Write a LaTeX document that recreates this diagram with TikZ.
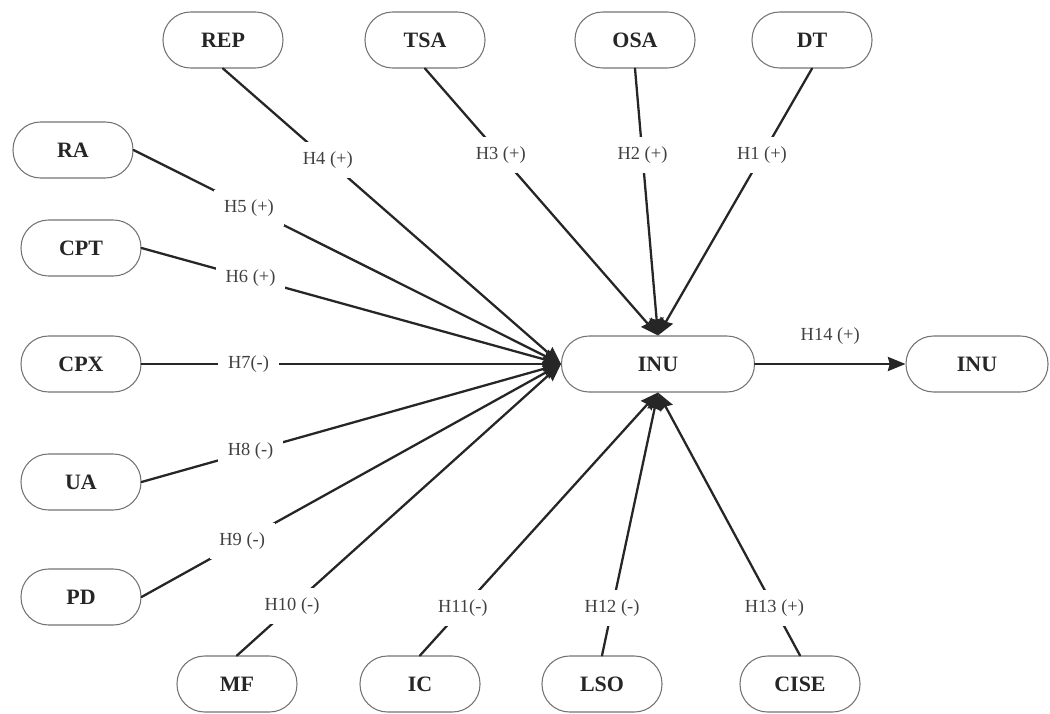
\documentclass[tikz,border=0pt]{standalone}
\usepackage{fontspec}
\setmainfont{Liberation Serif}
\usetikzlibrary{arrows.meta}

\begin{document}
\begin{tikzpicture}[x=0.02cm, y=-0.02cm, line cap=round, line join=round]

% ---------------- styles ----------------
\tikzset{
  construct/.style={draw=black!55, line width=0.6pt, rounded corners=0.55cm,
    minimum width=\BoxW, minimum height=\BoxH, inner sep=0pt,
    font=\fontsize{12.5}{14}\selectfont\bfseries, text=black!85},
  link/.style ={draw=black!85, line width=1.3pt, -{Stealth[length=10pt, width=8pt, inset=1pt]}},
  hyp/.style  ={fill=white, inner sep=5.5pt, font=\fontsize{10.5}{12}\selectfont, text=black!75}
}

% ---------------- parameters ----------------
\def\BoxW{2.4cm}     % construct width
\def\BoxH{1.12cm}    % construct height

\useasboundingbox (0,0) rectangle (1050,713);

% ---------------- constructs ----------------
% top row
\node[construct] (REP) at (223,40)  {REP};
\node[construct] (TSA) at (425,40)  {TSA};
\node[construct] (OSA) at (635,40)  {OSA};
\node[construct] (DT)  at (812,40)  {DT};
% left column
\node[construct] (RA)  at (73,150)  {RA};
\node[construct] (CPT) at (81,248)  {CPT};
\node[construct] (CPX) at (81,364)  {CPX};
\node[construct] (UA)  at (81,482)  {UA};
\node[construct] (PD)  at (81,597)  {PD};
% bottom row
\node[construct] (MF)   at (237,684) {MF};
\node[construct] (IC)   at (420,684) {IC};
\node[construct] (LSO)  at (602,684) {LSO};
\node[construct] (CISE) at (800,684) {CISE};
% centre and outcome
\node[construct, minimum width=3.86cm] (INU)    at (658,364) {INU};
\node[construct, minimum width=2.84cm] (INUout) at (977,364) {INU};

% ---------------- hypotheses ----------------
\draw[link] (DT.south)  -- node[hyp, pos=0.325] {H1 (+)} (INU.north);
\draw[link] (OSA.south) -- node[hyp, pos=0.325] {H2 (+)} (INU.north);
\draw[link] (TSA.south) -- node[hyp, pos=0.325] {H3 (+)} (INU.north);
\draw[link] (REP.south) -- node[hyp, pos=0.31]  {H4 (+)} (INU.west);
\draw[link] (RA.east)   -- node[hyp, pos=0.27]  {H5 (+)} (INU.west);
\draw[link] (CPT.east)  -- node[hyp, pos=0.26]  {H6 (+)} (INU.west);
\draw[link] (CPX.east)  -- node[hyp, pos=0.255] {H7(-)}  (INU.west);
\draw[link] (UA.east)   -- node[hyp, pos=0.26]  {H8 (-)} (INU.west);
\draw[link] (PD.east)   -- node[hyp, pos=0.24]  {H9 (-)} (INU.west);
\draw[link] (MF.north)  -- node[hyp, pos=0.17]  {H10 (-)} (INU.west);
\draw[link] (IC.north)  -- node[hyp, pos=0.18]  {H11(-)}  (INU.south);
\draw[link] (LSO.north) -- node[hyp, pos=0.18]  {H12 (-)} (INU.south);
\draw[link] (CISE.north)-- node[hyp, pos=0.18]  {H13 (+)} (INU.south);

% outcome link
\draw[link] (INU.east) -- node[hyp, midway, above=5pt] {H14 (+)} (INUout.west);

\end{tikzpicture}
\end{document}
